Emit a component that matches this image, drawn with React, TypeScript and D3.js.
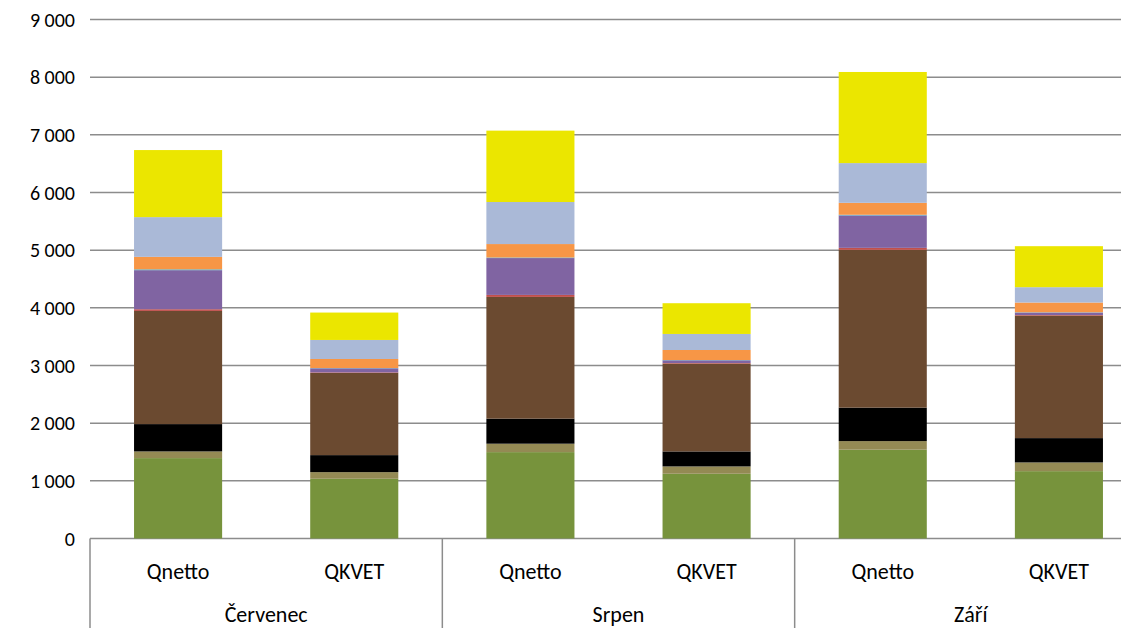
import React from "react";
import * as d3 from "d3";

const groups = ["Červenec", "Srpen", "Září"];
const subs = ["Qnetto", "QKVET"];
const seriesColors = ["#77933C", "#948A54", "#000000", "#6B4A30", "#C0504D", "#8064A2", "#4BACC6", "#F79646", "#AAB9D7", "#EBE600"];
// values per bar (Červenec Qnetto, Červenec QKVET, Srpen Qnetto, Srpen QKVET, Září Qnetto, Září QKVET)
const s1 = [1394, 1036, 1498, 1123, 1540, 1168];
const s2 = [116, 115, 146, 127, 149, 151];
const s3 = [474, 295, 434, 260, 580, 422];
const s4 = [1962, 1424, 2111, 1523, 2736, 2125];
const s5 = [30, 10, 35, 10, 35, 10];
const s6 = [677, 71, 639, 47, 562, 42];
const s7 = [15, 5, 10, 5, 12, 5];
const s8 = [216, 157, 233, 174, 207, 169];
const s9 = [689, 330, 729, 278, 689, 266];
const s10 = [1163, 475, 1238, 533, 1580, 711];
const yTicks = [0, 1000, 2000, 3000, 4000, 5000, 6000, 7000, 8000, 9000];

const allSeries = [s1, s2, s3, s4, s5, s6, s7, s8, s9, s10];

export default function App() {
  const W = 1133, H = 628;
  const left = 90, right = 1147, gridRight = 1121;
  const y = d3.scaleLinear().domain([0, 9000]).range([538.5, 19.5]);
  const bars = groups.flatMap((g) => subs.map((s) => `${g}|${s}`));
  const x = d3.scaleBand().domain(bars).range([left, right]).paddingInner(0.5).paddingOuter(0.25);
  const gx = d3.scaleBand().domain(groups).range([left, right]);
  const fmt = (v: number) => d3.format(",")(v).replace(/,/g, " ");
  const font = "Carlito, 'Liberation Sans', Arial, sans-serif";

  const rects: React.ReactNode[] = [];
  bars.forEach((b, i) => {
    let acc = 0;
    allSeries.forEach((ser, k) => {
      const v = ser[i];
      const y0 = y(acc), y1 = y(acc + v);
      acc += v;
      rects.push(
        <rect key={`${b}-${k}`} x={x(b)} width={x.bandwidth()} y={y1} height={y0 - y1} fill={seriesColors[k]} />
      );
    });
  });

  return (
    <svg width={W} height={H} style={{ position: "absolute", left: 0, top: 0, background: "#fff" }}>
      <rect x={0} y={0} width={W} height={H} fill="#fff" />
      {yTicks.map((t) => (
        <g key={t}>
          <line x1={left} x2={gridRight} y1={y(t)} y2={y(t)} stroke="#8C8C8C" strokeWidth={1.5} />
          <text x={75} y={y(t)} dy="0.35em" textAnchor="end" fontSize={20} fontFamily={font} fill="#000">{fmt(t)}</text>
        </g>
      ))}
      {rects}
      {groups.map((g) => gx(g) as number).map((xx, i) => (
        <line key={i} x1={xx} x2={xx} y1={y(0)} y2={H} stroke="#8C8C8C" strokeWidth={1.5} />
      ))}
      {bars.map((b) => (
        <text key={b} x={(x(b) as number) + x.bandwidth() / 2} y={571} dy="0.35em" textAnchor="middle" fontSize={22} fontFamily={font}>{b.split("|")[1]}</text>
      ))}
      {groups.map((g) => (
        <text key={g} x={(gx(g) as number) + gx.bandwidth() / 2} y={614} dy="0.35em" textAnchor="middle" fontSize={22} fontFamily={font}>{g}</text>
      ))}
    </svg>
  );
}
